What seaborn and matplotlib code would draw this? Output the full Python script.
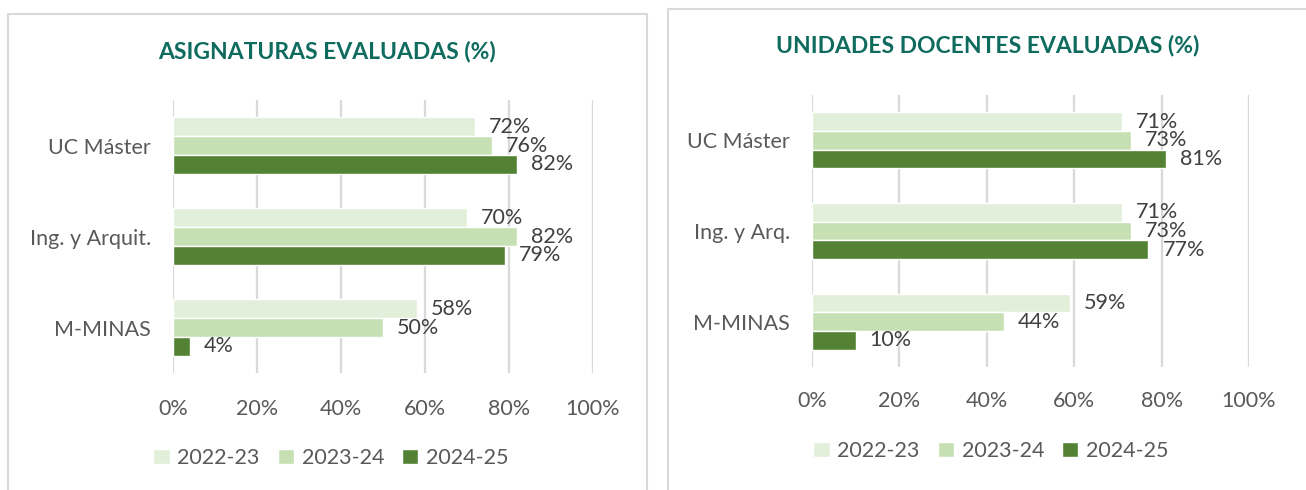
import pandas as pd
import numpy as np
import matplotlib.pyplot as plt
import seaborn as sns
from matplotlib.patches import Rectangle

# data
years = ["2022-23", "2023-24", "2024-25"]
asig_cats = ["UC Máster", "Ing. y Arquit.", "M-MINAS"]
asig_2022 = [72, 70, 58]
asig_2023 = [76, 82, 50]
asig_2024 = [82, 79, 4]

ud_cats = ["UC Máster", "Ing. y Arq.", "M-MINAS"]
ud_2022 = [71, 71, 59]
ud_2023 = [73, 73, 44]
ud_2024 = [81, 77, 10]

colors = ["#E2EFDA", "#C6E0B4", "#548235"]
title_color = "#0E6B5E"
text_color = "#595959"
label_color = "#404040"
grid_color = "#D9D9D9"

sns.set_theme(style="white")
plt.rcParams['font.family'] = ['Lato', 'DejaVu Sans']


def long_table(cats, a, b, c):
    rows = []
    for yr, vals in zip(years, [a, b, c]):
        for cat, v in zip(cats, vals):
            rows.append({"cat": cat, "year": yr, "val": v})
    return pd.DataFrame(rows)


def draw_panel(ax, df, cats, tick_pad):
    sns.barplot(data=df, y="cat", x="val", hue="year", order=cats, hue_order=years,
                palette=colors, orient="h", width=0.62, gap=0, saturation=1,
                ax=ax, legend=False)
    for cont in ax.containers:
        ax.bar_label(cont, fmt="%.0f%%", padding=10, fontsize=15.5, color=label_color)
    ax.set_xlim(0, 100)
    ax.set_ylim(2.5, -0.5)
    ax.set_xticks([0, 20, 40, 60, 80, 100])
    ax.set_xticklabels(["0%", "20%", "40%", "60%", "80%", "100%"])
    ax.grid(axis="x", color=grid_color, linewidth=1.6)
    ax.set_axisbelow(True)
    for s in ax.spines.values():
        s.set_visible(False)
    ax.tick_params(axis="x", length=0, pad=tick_pad, labelsize=15.5, labelcolor=text_color)
    ax.tick_params(axis="y", length=0, pad=16, labelsize=15.5, labelcolor=text_color)
    ax.set_xlabel("")
    ax.set_ylabel("")


fig = plt.figure(figsize=(13.06, 4.90), dpi=100)

# panel frames
fig.add_artist(Rectangle((8 / 1306, -0.05), (647 - 8) / 1306, 1.05 - 14 / 490,
                         transform=fig.transFigure, fill=False,
                         edgecolor=grid_color, linewidth=1.5))
fig.add_artist(Rectangle((668 / 1306, -0.05), (1320 - 668) / 1306, 1.05 - 9 / 490,
                         transform=fig.transFigure, fill=False,
                         edgecolor=grid_color, linewidth=1.5))

ax1 = fig.add_axes([173 / 1306, 1 - 373 / 490, 420 / 1306, 273 / 490])
ax2 = fig.add_axes([812 / 1306, 1 - 367 / 490, 437 / 1306, 272 / 490])

draw_panel(ax1, long_table(asig_cats, asig_2022, asig_2023, asig_2024), asig_cats, 19)
draw_panel(ax2, long_table(ud_cats, ud_2022, ud_2023, ud_2024), ud_cats, 17)

fig.text(327 / 1306, 1 - 52 / 490, "ASIGNATURAS EVALUADAS (%)", ha="center", va="center",
         fontsize=16.5, fontweight="bold", color=title_color)
fig.text(988 / 1306, 1 - 45 / 490, "UNIDADES DOCENTES EVALUADAS (%)", ha="center", va="center",
         fontsize=16.5, fontweight="bold", color=title_color)

handles = [Rectangle((0, 0), 1, 1, facecolor=c) for c in colors]
for ax, cx, cy in [(ax1, 331, 458), (ax2, 991, 451)]:
    ax.legend(handles, years, loc="center", bbox_to_anchor=(cx / 1306, 1 - cy / 490),
              bbox_transform=fig.transFigure, ncol=3, frameon=False, fontsize=15.5,
              labelcolor=text_color, handlelength=0.75, handleheight=0.75,
              handletextpad=0.35, columnspacing=0.85)

plt.savefig("out.png", dpi=100)
